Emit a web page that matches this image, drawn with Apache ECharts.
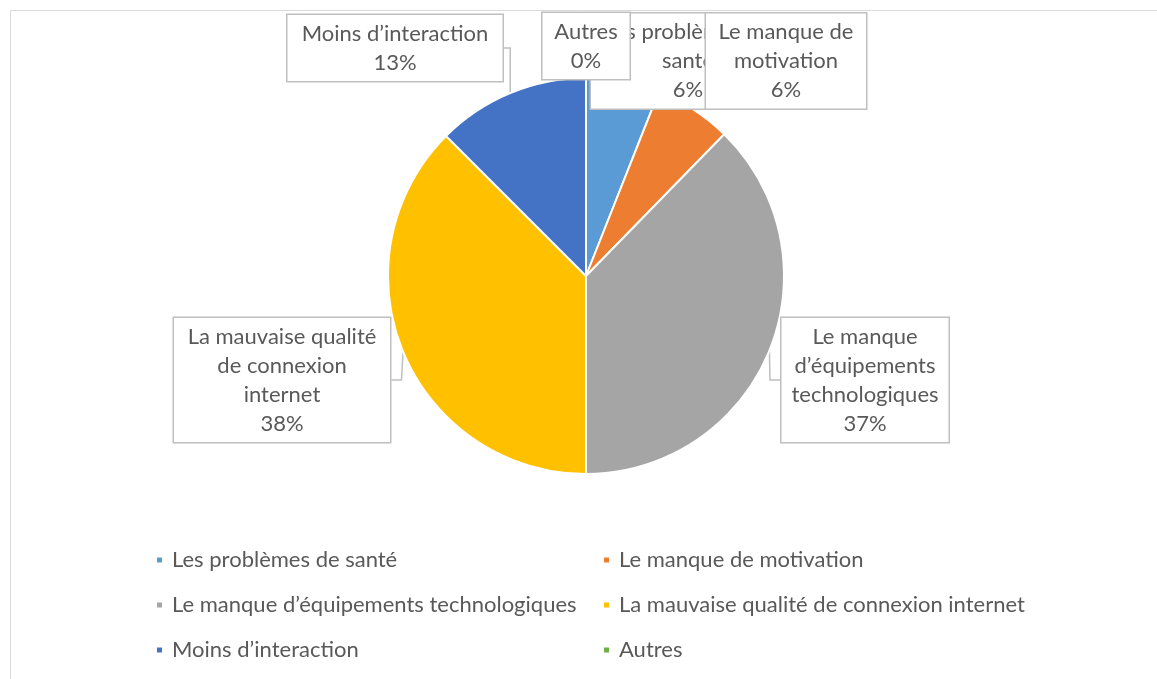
<!DOCTYPE html>
<html>
<head>
<meta charset="utf-8">
<script src="https://cdn.jsdelivr.net/npm/echarts@6/dist/echarts.min.js"></script>
<style>
  html, body { margin: 0; padding: 0; background: #fff; }
  #chart { width: 1157px; height: 679px; }
</style>
</head>
<body>
<div id="chart"></div>
<script>
// catégories
const categories = [
  "Les problèmes de santé",
  "Le manque de motivation",
  "Le manque d’équipements technologiques",
  "La mauvaise qualité de connexion internet",
  "Moins d’interaction",
  "Autres",
];
// taille des parts (en %)
const values = [6.0, 6.3, 37.7, 37.5, 12.5, 0];
// pourcentages affichés dans les étiquettes
const percentLabels = ["6%", "6%", "37%", "38%", "13%", "0%"];
// texte des étiquettes, coupé comme dans l'original
const labelTexts = [
  "Les problèmes de\nsanté",
  "Le manque de\nmotivation",
  "Le manque\nd’équipements\ntechnologiques",
  "La mauvaise qualité\nde connexion\ninternet",
  "Moins d’interaction",
  "Autres",
];
const colors = ["#5B9BD5", "#ED7D31", "#A5A5A5", "#FFC000", "#4472C4", "#70AD47"];

// position des bulles d'étiquette (centre x, centre y, largeur)
const callouts = [
  [688, 61, 194],
  [786, 61, 160],
  [865, 380, 167],
  [282, 380, 216],
  [395, 48, 215],
  [586, 46, 87],
];

const font = "Lato, 'Liberation Sans', sans-serif";
const textColor = "#595959";

const chart = echarts.init(document.getElementById("chart"));

const legendStyle = {
  fontFamily: font,
  fontSize: 22,
  lineHeight: 22,
  color: textColor,
  rich: { s: { width: 4 } },
};

chart.setOption({
  animation: false,
  color: colors,
  graphic: [
    {
      type: "polyline",
      shape: { points: [[10.5, 679], [10.5, 10.5], [1157, 10.5]] },
      style: { stroke: "#d9d9d9", lineWidth: 1, fill: null },
    },
  ],
  legend: [
    {
      orient: "vertical",
      left: 150,
      top: 544,
      itemWidth: 7,
      itemHeight: 7,
      itemGap: 23,
      icon: "rect",
      data: [categories[0], categories[2], categories[4]],
      formatter: "{s|}{name}",
      textStyle: legendStyle,
    },
    {
      orient: "vertical",
      left: 597,
      top: 544,
      itemWidth: 7,
      itemHeight: 7,
      itemGap: 23,
      icon: "rect",
      data: [categories[1], categories[3], categories[5]],
      formatter: "{s|}{name}",
      textStyle: legendStyle,
    },
  ],
  series: [
    {
      type: "pie",
      center: [586, 276],
      radius: 198,
      startAngle: 90,
      clockwise: true,
      avoidLabelOverlap: false,
      emphasis: { disabled: true },
      itemStyle: { borderColor: "#fff", borderWidth: 2 },
      label: {
        show: true,
        position: "outside",
        formatter: (p) => labelTexts[p.dataIndex] + "\n" + percentLabels[p.dataIndex],
        fontFamily: font,
        fontSize: 22,
        lineHeight: 29,
        color: textColor,
        backgroundColor: "#fff",
        borderColor: "#bfbfbf",
        borderWidth: 1.5,
        padding: [4, 0],
        align: "center",
      },
      labelLine: {
        show: true,
        length: 10,
        length2: 10,
        lineStyle: { color: "#bfbfbf", width: 1.5 },
      },
      labelLayout: (params) => {
        const c = callouts[params.dataIndex];
        return { x: c[0], y: c[1], align: "center", verticalAlign: "middle" };
      },
      data: categories.map((name, i) => ({
        name: name,
        value: values[i],
        label: { width: callouts[i][2] },
      })),
    },
  ],
});

window.addEventListener("resize", function () {
  chart.resize();
});
</script>
</body>
</html>
